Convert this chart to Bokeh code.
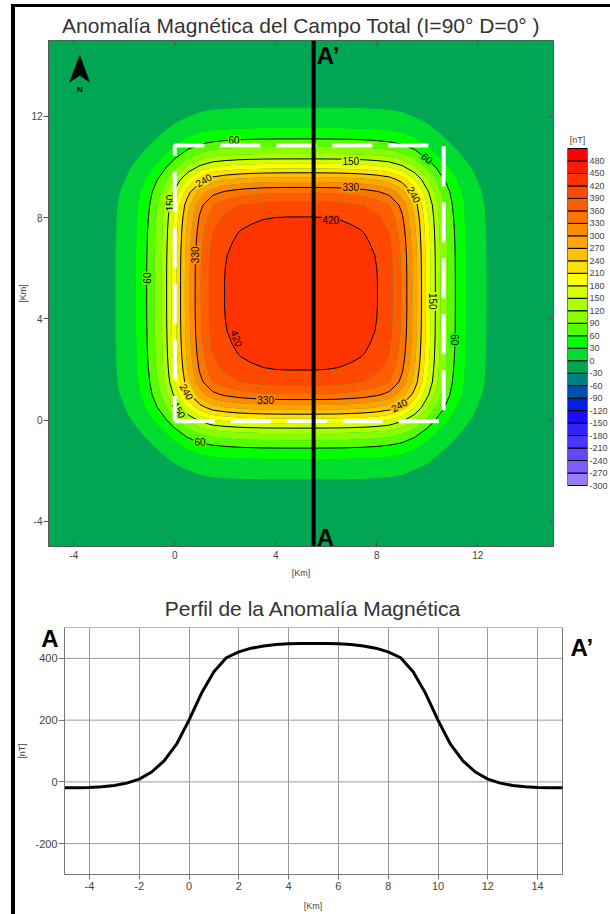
import numpy as np
from bokeh.plotting import figure
from bokeh.models import (ColumnDataSource, FixedTicker, Range1d, Label,
                          PolyAnnotation, Div, Spacer)
from bokeh.layouts import row, column
from bokeh.embed import file_html
from bokeh.resources import INLINE
from bokeh.core.properties import value

# ---------------- data ----------------
# profile A-A' (distance along profile in km, anomaly in nT)
profile_km = [-5.0, -4.5, -4.0, -3.5, -3.0, -2.5, -2.0, -1.5, -1.0, -0.5,
              0.0, 0.5, 1.0, 1.5, 2.0, 2.5, 3.0, 3.5, 4.0, 4.5,
              5.0, 5.5, 6.0, 6.5, 7.0, 7.5, 8.0, 8.5, 9.0, 9.5,
              10.0, 10.5, 11.0, 11.5, 12.0, 12.5, 13.0, 13.5, 14.0, 14.5, 15.0]
profile_nT = [-19, -19, -18, -16, -12, -4, 9, 32, 68, 122,
              200, 287, 357, 402, 421, 433, 440, 445, 447, 448,
              448, 448, 447, 445, 440, 433, 421, 402, 357, 287,
              200, 122, 68, 32, 9, -4, -12, -16, -18, -19, -19]

# colour scale
level_edges = list(range(-300, 540, 30))          # -300 ... 510
band_colors = ["#9a7bff", "#7a5cff", "#6347ff", "#4a35ff", "#3322ff", "#1a0aff",
               "#0020e8", "#0050b0", "#007f80", "#00a651", "#00dd2e", "#00ff00",
               "#55ff00", "#88ff00", "#aaff00", "#d4ff00", "#ffff00", "#ffe000",
               "#ffc000", "#ffa500", "#ff8c00", "#ff7300", "#ff5e00", "#ff4800",
               "#ff3300", "#ff1a00", "#ff0000"]
cbar_ticks = list(range(-300, 510, 30))
line_levels = [60, 150, 240, 330, 420]

# axes
map_range = [-5, 15]
map_ticks = [-4, 0, 4, 8, 12]
prof_x_range = [-5, 15]
prof_y_range = [-300, 500]
prof_x_ticks = [-4, -2, 0, 2, 4, 6, 8, 10, 12, 14]
prof_y_ticks = [-200, 0, 200, 400]

# map annotations
section_x = 5.5
body_x0, body_x1, body_y0, body_y1 = 0.0, 10.65, -0.05, 10.85
clabel_text = ["60", "60", "150", "240", "330", "240", "420", "150", "330",
               "60", "420", "240", "150", "330", "240", "150", "60", "60"]
clabel_x = [2.35, 10.0, 6.97, 1.14, 6.97, 9.48, 6.18, -0.2, 0.82,
            -1.1, 2.46, 0.48, 0.17, 3.6, 8.88, 10.22, 11.1, 1.0]
clabel_y = [11.05, 10.36, 10.22, 9.48, 9.2, 8.91, 7.9, 8.58, 6.53,
            5.61, 3.23, 1.12, 0.4, 0.8, 0.59, 4.69, 3.17, -0.85]
clabel_angle = [0, -40, 0, 30, 0, -60, 0, 90, 90,
                90, -70, -60, -60, 0, 30, -90, -90, 0]
arrow_x = [-3.76, -3.37, -3.76, -4.17]
arrow_y = [14.42, 13.35, 13.62, 13.35]

FONT = "Liberation Sans"


def plain_labels(ticks):
    return {t: str(t) for t in ticks}


# ---------------- field on the map grid (built from the profile) ----------------
prof = np.array(profile_nT, dtype=float)
pmin = prof.min()
qv = prof - pmin
zgrid = np.outer(qv, qv) / qv.max() + pmin
gx = np.array(profile_km, dtype=float)


def field_at(x, y):
    qx = np.interp(x, gx, qv)
    qy = np.interp(y, gx, qv)
    return qx * qy / qv.max() + pmin


# colour of the band under each contour label (used as the label's backdrop)
lbl_bg = []
for lx, ly in zip(clabel_x, clabel_y):
    k = int(np.searchsorted(level_edges, field_at(lx, ly))) - 1
    lbl_bg.append(band_colors[max(0, min(k, len(band_colors) - 1))])

# ---------------- map figure ----------------
p = figure(frame_width=505, frame_height=506, min_border_left=33, min_border_right=1,
           min_border_top=33, min_border_bottom=40,
           x_range=Range1d(*map_range), y_range=Range1d(*map_range),
           output_backend="svg", toolbar_location=None,
           title="Anomalía Magnética del Campo Total (I=90° D=0° )")
p.title.align = "center"
p.title.text_font = FONT
p.title.text_font_size = "21px"
p.title.text_font_style = "normal"
p.title.text_color = "#333333"
p.title.standoff = 7
p.grid.visible = False
p.outline_line_color = "#555555"
p.background_fill_color = band_colors[9]

p.contour(x=gx, y=gx, z=zgrid, levels=level_edges, fill_color=band_colors)
p.contour(x=gx, y=gx, z=zgrid, levels=line_levels, line_color="black", line_width=1)

lbl_src = ColumnDataSource(dict(x=clabel_x, y=clabel_y, text=clabel_text,
                                angle=clabel_angle, bg=lbl_bg))
text_kw = dict(x="x", y="y", text="text", angle="angle", angle_units="deg", source=lbl_src,
               text_font=value(FONT), text_font_size="10px", text_align="center",
               text_baseline="middle", text_color="black")
try:
    p.text(background_fill_color="bg", padding=1, **text_kw)
except Exception:
    p.text(**text_kw)

rx = [body_x0, body_x1, body_x1, body_x0, body_x0]
ry = [body_y0, body_y0, body_y1, body_y1, body_y0]
p.line(rx, ry, line_color="white", line_width=4, line_dash="40 16")

p.line([section_x, section_x], map_range, line_color="black", line_width=4)

p.add_layout(PolyAnnotation(xs=arrow_x, ys=arrow_y, fill_color="black", fill_alpha=1,
                            line_color="black"))
p.add_layout(Label(x=arrow_x[0], y=arrow_y[1], y_offset=-3, text="N", text_font=FONT,
                   text_font_size="8px", text_font_style="bold", text_align="center",
                   text_baseline="top", text_color="black"))
p.add_layout(Label(x=section_x, y=map_range[1], x_offset=3, y_offset=-1, text="A’",
                   text_font=FONT, text_font_size="24px", text_font_style="bold",
                   text_baseline="top", text_align="left", text_color="black"))
p.add_layout(Label(x=section_x, y=map_range[0], x_offset=3, y_offset=23, text="A",
                   text_font=FONT, text_font_size="24px", text_font_style="bold",
                   text_baseline="top", text_align="left", text_color="black"))

# inward ticks on top and right edges
tick_len = 0.2
p.segment(x0=map_ticks, y0=[map_range[1]] * len(map_ticks), x1=map_ticks,
          y1=[map_range[1] - tick_len] * len(map_ticks), line_color="#555555")
p.segment(x0=[map_range[1]] * len(map_ticks), y0=map_ticks,
          x1=[map_range[1] - tick_len] * len(map_ticks), y1=map_ticks, line_color="#555555")

for ax in (p.xaxis[0], p.yaxis[0]):
    ax.ticker = FixedTicker(ticks=map_ticks)
    ax.major_label_overrides = plain_labels(map_ticks)
    ax.minor_tick_line_color = None
    ax.axis_line_color = "#555555"
    ax.major_tick_line_color = "#555555"
    ax.major_label_text_font = FONT
    ax.major_label_text_font_size = "10px"
    ax.major_label_text_color = "#444444"
    ax.axis_label = "[Km]"
    ax.axis_label_text_font = FONT
    ax.axis_label_text_font_size = "9px"
    ax.axis_label_text_font_style = "normal"
    ax.axis_label_text_color = "#444444"
p.xaxis.major_tick_in = 5
p.xaxis.major_tick_out = 0
p.xaxis.major_label_standoff = 4
p.xaxis.axis_label_standoff = 6
p.yaxis.major_tick_in = 0
p.yaxis.major_tick_out = 5
p.yaxis.major_label_standoff = 1
p.yaxis.axis_label_standoff = 0

# ---------------- colour bar figure (same frame height as the map) ----------------
cb_gap_top_px, cb_bar_px, cb_gap_bottom_px = 108, 337, 61
nt_per_px = (level_edges[-1] - level_edges[0]) / cb_bar_px
cb_lo = level_edges[0] - cb_gap_bottom_px * nt_per_px
cb_hi = level_edges[-1] + cb_gap_top_px * nt_per_px
cb = figure(frame_width=20, frame_height=506, min_border_left=13, min_border_right=22,
            min_border_top=33, min_border_bottom=40,
            x_range=Range1d(0, 1), y_range=Range1d(cb_lo, cb_hi),
            x_axis_location=None, y_axis_location="right",
            output_backend="svg", toolbar_location=None)
cb.grid.visible = False
cb.outline_line_color = None
cb.quad(left=0, right=1, bottom=level_edges[:-1], top=level_edges[1:],
        fill_color=band_colors, line_color="black", line_width=1)
cb.add_layout(Label(x=0.5, y=level_edges[-1], y_offset=4, text="[nT]", text_font=FONT,
                    text_font_size="9px", text_align="center", text_baseline="bottom",
                    text_color="#444444"))
cb.yaxis.ticker = FixedTicker(ticks=cbar_ticks)
cb.yaxis.major_label_overrides = plain_labels(cbar_ticks)
cb.yaxis.major_tick_in = 0
cb.yaxis.major_tick_out = 0
cb.yaxis.minor_tick_line_color = None
cb.yaxis.axis_line_color = None
cb.yaxis.major_label_standoff = 2
cb.yaxis.major_label_text_font = FONT
cb.yaxis.major_label_text_font_size = "9px"
cb.yaxis.major_label_text_color = "#444444"

# ---------------- profile figure ----------------
# the frame spans the whole canvas width so that the A / A' marks beside the
# plotting box stay visible; the data box keeps its pixel place (49 px left, 48 px right)
pad_left_px, box_px, pad_right_px = 49, 498, 48
km_per_px = (prof_x_range[1] - prof_x_range[0]) / box_px
q_x_lo = prof_x_range[0] - pad_left_px * km_per_px
q_x_hi = prof_x_range[1] + pad_right_px * km_per_px
q = figure(frame_width=pad_left_px + box_px + pad_right_px, frame_height=247,
           min_border_left=0, min_border_right=0, min_border_top=41, min_border_bottom=40,
           x_range=Range1d(q_x_lo, q_x_hi), y_range=Range1d(*prof_y_range),
           output_backend="svg", toolbar_location=None,
           title="Perfil de la Anomalía Magnética")
q.title.align = "center"
q.title.text_font = FONT
q.title.text_font_size = "21px"
q.title.text_font_style = "normal"
q.title.text_color = "#333333"
q.title.standoff = 15
q.outline_line_color = None
q.xgrid.ticker = FixedTicker(ticks=prof_x_ticks)
q.xgrid.grid_line_color = "#999999"
q.ygrid.visible = False
# horizontal grid lines limited to the plotting box
q.segment(x0=[prof_x_range[0]] * len(prof_y_ticks), y0=prof_y_ticks,
          x1=[prof_x_range[1]] * len(prof_y_ticks), y1=prof_y_ticks,
          line_color="#999999", line_width=1)
q.quad(left=prof_x_range[0], right=prof_x_range[1], bottom=prof_y_range[0],
       top=prof_y_range[1], fill_color=None, line_color="#777777", line_width=1)
q.line(profile_km, profile_nT, line_color="black", line_width=3)
q.xaxis.ticker = FixedTicker(ticks=prof_x_ticks)
q.yaxis.ticker = FixedTicker(ticks=prof_y_ticks)
q.xaxis.bounds = tuple(prof_x_range)
q.yaxis.fixed_location = prof_x_range[0]
q.xaxis.major_label_overrides = plain_labels(prof_x_ticks)
q.yaxis.major_label_overrides = plain_labels(prof_y_ticks)
q.xaxis.axis_label = "[Km]"
q.yaxis.axis_label = "[nT]"
for ax in (q.xaxis[0], q.yaxis[0]):
    ax.minor_tick_line_color = None
    ax.axis_line_color = "#777777"
    ax.major_tick_line_color = "#777777"
    ax.major_tick_in = 0
    ax.major_label_text_font = FONT
    ax.major_label_text_font_size = "11px"
    ax.major_label_text_color = "#444444"
    ax.axis_label_text_font = FONT
    ax.axis_label_text_font_size = "9px"
    ax.axis_label_text_font_style = "normal"
    ax.axis_label_text_color = "#444444"
q.xaxis.major_tick_out = 5
q.xaxis.major_label_standoff = 2
q.xaxis.axis_label_standoff = 8
q.yaxis.major_tick_out = 6
q.yaxis.major_label_standoff = 1
q.yaxis.axis_label_standoff = 5
q.add_layout(Label(x=prof_x_range[0], y=prof_y_range[1], x_offset=-6, y_offset=3,
                   text="A", text_font=FONT, text_font_size="24px",
                   text_font_style="bold", text_baseline="top", text_align="right",
                   text_color="black"))
q.add_layout(Label(x=prof_x_range[1], y=prof_y_range[1], x_offset=8, y_offset=-6,
                   text="A’", text_font=FONT, text_font_size="24px",
                   text_font_style="bold", text_baseline="top", text_align="left",
                   text_color="black"))

# ---------------- layout (black frame lines of the original picture) ----------------
top_bar = Div(text="", width=599, height=3, margin=0, styles={"background-color": "black"})
left_bar = Div(text="", width=4, height=907, margin=0, styles={"background-color": "black"})
layout = column(
    Spacer(width=610, height=4, margin=0),
    row(Spacer(width=11, height=3, margin=0), top_bar),
    row(Spacer(width=11, height=907, margin=0), left_bar, column(row(p, cb), q)),
)

open("out.html", "w").write(file_html(layout, INLINE))
